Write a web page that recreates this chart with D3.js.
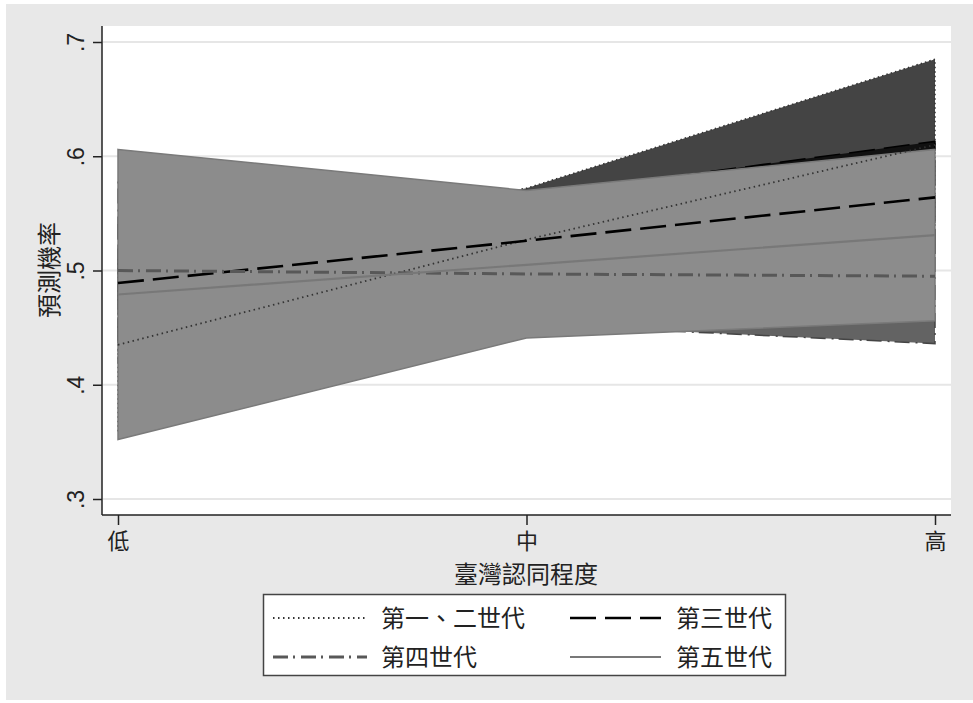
<!DOCTYPE html>
<html>
<head>
<meta charset="utf-8">
<script src="https://cdn.jsdelivr.net/npm/d3@7"></script>
<style>
    body { margin: 0; background: #fff; }
    .cjk { font-family: "Noto Sans CJK TC", "Noto Sans", sans-serif; fill: #222; }
    .num { font-family: "Liberation Sans", Arial, sans-serif; fill: #222; }
</style>
</head>
<body>
<svg width="973" height="703"></svg>
<script>
// **** chart data ****
var levels = ['低', '中', '高'];
var yTicks = [0.3, 0.4, 0.5, 0.6, 0.7];
var seriesNames = ['第一、二世代', '第三世代', '第四世代', '第五世代'];

var gen12 = [0.435, 0.527, 0.610];
var gen12Lo = [0.360, 0.483, 0.535];
var gen12Hi = [0.510, 0.572, 0.685];

var gen3 = [0.489, 0.526, 0.564];
var gen3Lo = [0.440, 0.487, 0.515];
var gen3Hi = [0.540, 0.565, 0.613];

var gen4 = [0.500, 0.497, 0.495];
var gen4Lo = [0.420, 0.453, 0.436];
var gen4Hi = [0.580, 0.541, 0.554];

var gen5 = [0.479, 0.505, 0.531];
var gen5Lo = [0.352, 0.441, 0.456];
var gen5Hi = [0.606, 0.570, 0.606];

// band + line look for each series
var styles = [
    {band: '#444444', edge: '#333333', edgeDash: '1.5,3', line: '#333333', width: 1.8, dash: '1.5,3.5'},
    {band: '#111111', edge: '#000000', edgeDash: '26,9', line: '#000000', width: 2.6, dash: '26,9'},
    {band: '#636363', edge: '#444444', edgeDash: '15,5,2,6', line: '#585858', width: 3, dash: '15,5,2,6'},
    {band: '#8c8c8c', edge: '#7a7a7a', edgeDash: null, line: '#787878', width: 2.2, dash: null}
];

let buildSeries = () => {
    var mid = [gen12, gen3, gen4, gen5];
    var lo = [gen12Lo, gen3Lo, gen4Lo, gen5Lo];
    var hi = [gen12Hi, gen3Hi, gen4Hi, gen5Hi];
    return seriesNames.map(function(name, i) {
        return {
            name: name,
            style: styles[i],
            values: levels.map(function(lv, j) {
                return {level: lv, mid: mid[i][j], lo: lo[i][j], hi: hi[i][j]};
            })
        };
    });
}

let drawChart = series => {
    var svg = d3.select('svg');

    // outer gray region + white plot region
    svg.append('rect')
        .attr('x', 6).attr('y', 4)
        .attr('width', 967).attr('height', 696)
        .attr('fill', '#e8e8e8');
    svg.append('rect')
        .attr('x', 102).attr('y', 26)
        .attr('width', 849).attr('height', 489)
        .attr('fill', '#ffffff');

    var xScale = d3.scalePoint()
        .domain(levels)
        .range([118, 935]);

    var yScale = d3.scaleLinear()
        .domain([0.3, 0.7])
        .range([499, 42]);

    // gridlines
    svg.append('g')
        .selectAll('line')
        .data(yTicks)
        .enter()
        .append('line')
            .attr('x1', 103)
            .attr('x2', 951)
            .attr('y1', function(d) { return yScale(d); })
            .attr('y2', function(d) { return yScale(d); })
            .attr('stroke', '#e6e6e6')
            .attr('stroke-width', 2);

    var area = d3.area()
        .x(function(d) { return xScale(d.level); })
        .y0(function(d) { return yScale(d.lo); })
        .y1(function(d) { return yScale(d.hi); });

    var line = d3.line()
        .x(function(d) { return xScale(d.level); })
        .y(function(d) { return yScale(d.mid); });

    // confidence bands, drawn in order (later ones cover earlier)
    var bands = svg.append('g');
    series.forEach(function(s) {
        bands.append('path')
            .datum(s.values)
            .attr('d', area)
            .attr('fill', s.style.band)
            .attr('stroke', 'none');
        var outline = s.values.map(function(d) { return [xScale(d.level), yScale(d.hi)]; })
            .concat(s.values.slice().reverse().map(function(d) { return [xScale(d.level), yScale(d.lo)]; }));
        bands.append('path')
            .attr('d', 'M' + outline.join('L') + 'Z')
            .attr('fill', 'none')
            .attr('stroke', s.style.edge)
            .attr('stroke-width', 1.5)
            .attr('stroke-dasharray', s.style.edgeDash);
    });

    // prediction lines
    svg.append('g')
        .selectAll('path')
        .data(series)
        .enter()
        .append('path')
            .attr('d', function(d) { return line(d.values); })
            .attr('fill', 'none')
            .attr('stroke', function(d) { return d.style.line; })
            .attr('stroke-width', function(d) { return d.style.width; })
            .attr('stroke-dasharray', function(d) { return d.style.dash; });

    // axes
    var yAxis = d3.axisLeft(yScale)
        .tickValues(yTicks)
        .tickSize(9)
        .tickFormat(function(d) { return d3.format('.1f')(d).replace(/^0/, ''); });

    var yG = svg.append('g')
        .attr('transform', 'translate(102,0)')
        .call(yAxis);
    yG.select('.domain').attr('d', 'M0,26V515').attr('stroke', '#222').attr('stroke-width', 1.5);
    yG.selectAll('.tick line').attr('stroke', '#222').attr('stroke-width', 1.5);
    yG.selectAll('.tick text')
        .attr('class', 'num')
        .attr('x', null).attr('dy', null)
        .attr('text-anchor', 'middle')
        .attr('transform', 'translate(-18,0) rotate(-90)')
        .style('font-size', '23px');

    var xAxis = d3.axisBottom(xScale)
        .tickSize(10)
        .tickPadding(0);

    var xG = svg.append('g')
        .attr('transform', 'translate(0,515)')
        .call(xAxis);
    xG.select('.domain').attr('d', 'M102,0H951').attr('stroke', '#222').attr('stroke-width', 1.5);
    xG.selectAll('.tick line').attr('stroke', '#222').attr('stroke-width', 1.5);
    xG.selectAll('.tick text')
        .attr('class', 'cjk')
        .attr('y', 34).attr('dy', null)
        .style('font-size', '22px');

    svg.append('text')
        .attr('class', 'cjk')
        .attr('text-anchor', 'middle')
        .attr('transform', 'translate(526,583)')
        .style('font-size', '24px')
        .text('臺灣認同程度');

    svg.append('text')
        .attr('class', 'cjk')
        .attr('text-anchor', 'middle')
        .attr('transform', 'translate(58,270) rotate(-90)')
        .style('font-size', '24px')
        .text('預測機率');

    drawLegend(svg, series);
}

let drawLegend = (svg, series) => {
    svg.append('rect')
        .attr('x', 263.5).attr('y', 594.5)
        .attr('width', 522).attr('height', 81)
        .attr('fill', '#fff')
        .attr('stroke', '#444')
        .attr('stroke-width', 1.5);

    var cols = [273, 570];
    var rows = [618, 657];

    var items = svg.append('g')
        .selectAll('g')
        .data(series)
        .enter()
        .append('g')
            .attr('transform', function(d, i) {
                return 'translate(' + cols[i % 2] + ',' + rows[Math.floor(i / 2)] + ')';
            });

    items.append('line')
        .attr('x1', 0).attr('x2', function(d, i) { return i % 2 ? 91 : 94; })
        .attr('y1', 0).attr('y2', 0)
        .attr('stroke', function(d) { return d.style.line; })
        .attr('stroke-width', function(d) { return d.style.width; })
        .attr('stroke-dasharray', function(d) { return d.style.dash; });

    items.append('text')
        .attr('class', 'cjk')
        .attr('x', function(d, i) { return i % 2 ? 106 : 108; })
        .attr('y', 9)
        .style('font-size', '24px')
        .text(function(d) { return d.name; });
}

let init = () => {
    drawChart(buildSeries());
}

init();
</script>
</body>
</html>
